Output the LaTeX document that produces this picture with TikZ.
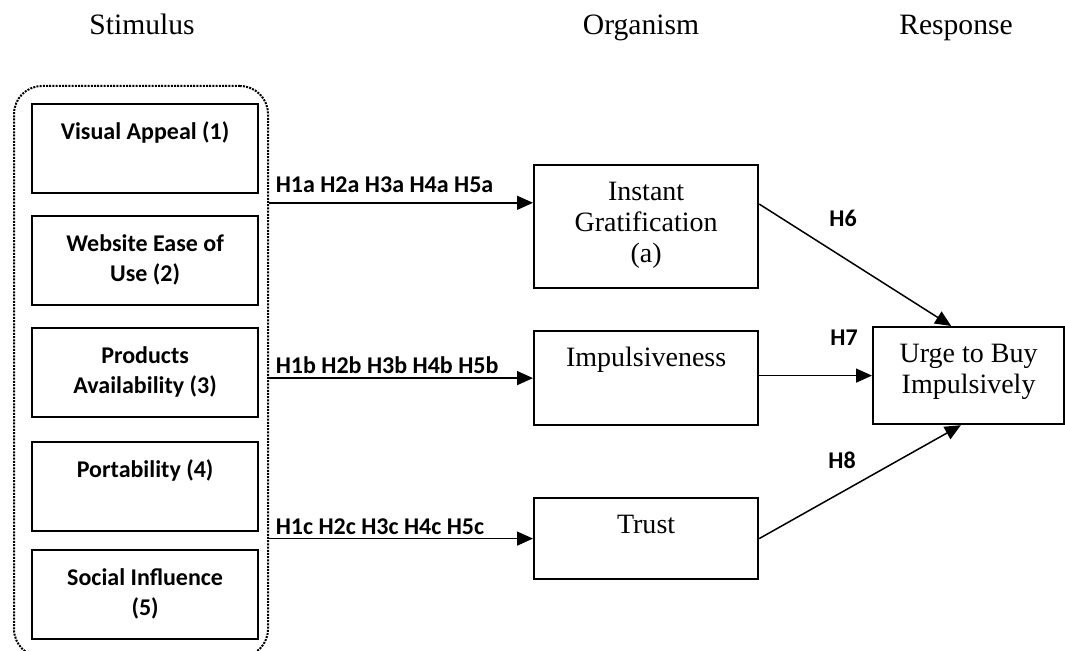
\documentclass[tikz,border=0pt]{standalone}
\usepackage{fontspec}
\setmainfont{Liberation Serif}
\newfontfamily\carlito{Carlito}
\usetikzlibrary{arrows.meta,calc}

% text hung from the top of a box
\newcommand{\intext}[3]{\parbox[t][#2][t]{#1}{\vspace*{7pt}\centering\strut#3}}

\tikzset{
  stim/.style={draw, line width=1.1pt, inner sep=0pt, anchor=north west,
    font=\carlito\fontsize{12}{15}\selectfont\bfseries},
  org/.style={draw, line width=1.1pt, inner sep=0pt, anchor=north west,
    font=\fontsize{14}{15.5}\selectfont},
  head/.style={anchor=base, font=\fontsize{14.8}{17}\selectfont},
  hyp/.style={inner sep=0pt, font=\carlito\fontsize{12}{15}\selectfont\bfseries},
  link/.style={line width=0.75pt, -{Triangle[length=8pt,width=7pt]}},
  frame/.style={draw, line width=1pt, dash pattern=on 1pt off 0.6pt,
    rounded corners=14pt, inner sep=0pt, anchor=north west},
}

\begin{document}
\begin{tikzpicture}[x=0.5pt,y=-0.5pt]
	\useasboundingbox (0,0) rectangle (1065,651);
	\clip (0,0) rectangle (1065,651);
	\node (st) at (142,35) [head] {Stimulus};
	\node (or) at (641,35) [head] {Organism};
	\node (re) at (956,35) [head] {Response};
	% stimulus group
	\node (stim) at (13,85) [frame, minimum width=127pt, minimum height=285.5pt] {};
	\node (va) at (31,103) [stim] {\intext{113pt}{44.5pt}{Visual Appeal (1)}};
	\node (we) at (31,215) [stim] {\intext{113pt}{44.5pt}{Website Ease of\\Use (2)}};
	\node (pa) at (31,327) [stim] {\intext{113pt}{44.5pt}{Products\\Availability (3)}};
	\node (po) at (31,441) [stim] {\intext{113pt}{44.5pt}{Portability (4)}};
	\node (si) at (31,549) [stim] {\intext{113pt}{44.5pt}{Social Influence\\(5)}};
	% organism and response
	\node (ig) at (533,164) [org] {\intext{112pt}{61.5pt}{Instant\\Gratification\\(a)}};
	\node (imp) at (533,330) [org] {\intext{112pt}{47pt}{Impulsiveness}};
	\node (tr) at (533,497) [org] {\intext{112pt}{40.5pt}{Trust}};
	\node (ub) at (872,326) [org] {\intext{95.5pt}{48.5pt}{Urge to Buy\\Impulsively}};
	\coordinate (igin) at ($(ig.north west)!.31!(ig.south west)$);
	\coordinate (igout) at ($(ig.north east)!.32!(ig.south east)$);
	\draw[link] (stim.east |- igin) -- node[hyp, pos=0, anchor=base west, xshift=3pt, yshift=5pt] (la) {H1a H2a H3a H4a H5a} (igin);
	\draw[link] (stim.east |- imp.west) -- node[hyp, pos=0, anchor=base west, xshift=3pt, yshift=2.5pt] (lb) {H1b H2b H3b H4b H5b} (imp.west);
	\draw[link] (stim.east |- tr.west) -- node[hyp, pos=0, anchor=base west, xshift=3pt, yshift=2pt] (lc) {H1c H2c H3c H4c H5c} (tr.west);
	\draw[link] (igout) -- ($(ub.north west)!.41!(ub.north east)$);
	\draw[link] (imp.east |- ub.west) -- (ub.west);
	\draw[link] (tr.east) -- ($(ub.south west)!.46!(ub.south east)$);
	\node (h6) at (843,218) [hyp] {H6};
	\node (h7) at (844,338) [hyp] {H7};
	\node (h8) at (842,460) [hyp] {H8};
\end{tikzpicture}
\end{document}
